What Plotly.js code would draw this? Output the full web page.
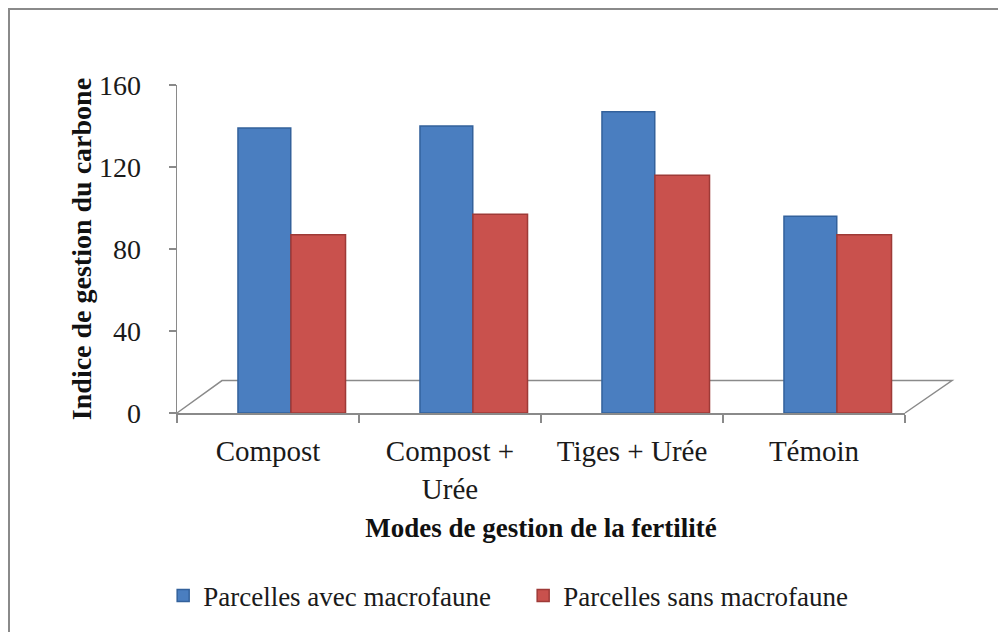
<!DOCTYPE html>
<html>
<head>
<meta charset="utf-8">
<script src="https://cdn.plot.ly/plotly-3.0.1.min.js"></script>
<style>
  html, body { margin: 0; padding: 0; background: #ffffff; }
  #wrap { position: relative; width: 998px; height: 632px; overflow: hidden; }
  #chart { position: absolute; left: 0; top: 0; width: 998px; height: 632px; }
  #frame { position: absolute; left: 8px; top: 8px; width: 1000px; height: 640px;
           border-top: 2px solid #8a8a8a; border-left: 2px solid #8a8a8a; pointer-events: none; }
</style>
</head>
<body>
<div id="wrap">
  <div id="chart"></div>
  <div id="frame"></div>
</div>
<script>
// Data
const categories = ["Compost", "Compost +<br>Urée", "Tiges + Urée", "Témoin"];
const avecMacrofaune = [139, 140, 147, 96];
const sansMacrofaune = [87, 97, 116, 87];
const seriesNames = ["Parcelles avec macrofaune", "Parcelles sans macrofaune"];
const yTicks = [0, 40, 80, 120, 160];

const serif = "Liberation Serif, Times New Roman, serif";

const traces = [
  {
    type: "bar",
    name: seriesNames[0],
    x: categories,
    y: avecMacrofaune,
    width: 0.29,
    offset: -0.165,
    marker: { color: "#4a7ec0", line: { color: "#33619b", width: 1.5 } },
    hoverinfo: "x+y+name"
  },
  {
    type: "bar",
    name: seriesNames[1],
    x: categories,
    y: sansMacrofaune,
    width: 0.30,
    offset: 0.126,
    marker: { color: "#c9514d", line: { color: "#9e3a37", width: 1.5 } },
    hoverinfo: "x+y+name"
  }
];

const layout = {
  width: 998,
  height: 632,
  margin: { l: 177, r: 93, t: 85, b: 214 },
  paper_bgcolor: "#ffffff",
  plot_bgcolor: "rgba(0,0,0,0)",
  barmode: "overlay",
  showlegend: true,
  font: { family: serif, color: "#1a1a1a" },
  xaxis: {
    type: "category",
    range: [-0.5, 3.5],
    showline: true,
    linecolor: "#8a8a8a",
    linewidth: 1.5,
    ticks: "outside",
    tickson: "boundaries",
    ticklen: 8,
    tickcolor: "#8a8a8a",
    tickwidth: 1.5,
    showgrid: false,
    ticklabelstandoff: 12,
    tickfont: { family: serif, size: 29, color: "#1a1a1a" },
    title: {
      text: "<b>Modes de gestion de la fertilité</b>",
      font: { family: serif, size: 27, color: "#111111" },
      standoff: 14
    },
    automargin: false
  },
  yaxis: {
    range: [0, 160],
    tickvals: yTicks,
    showline: true,
    linecolor: "#8a8a8a",
    linewidth: 1.5,
    ticks: "outside",
    ticklen: 7,
    tickcolor: "#8a8a8a",
    tickwidth: 1.5,
    showgrid: false,
    zeroline: false,
    ticklabelstandoff: 22,
    tickfont: { family: serif, size: 28, color: "#1a1a1a" },
    title: {
      text: "<b>Indice de gestion du carbone</b>",
      font: { family: serif, size: 28, color: "#111111" }
    },
    automargin: false
  },
  legend: {
    orientation: "h",
    x: -0.019,
    xanchor: "left",
    y: -0.558,
    yanchor: "middle",
    font: { family: serif, size: 27, color: "#1a1a1a" },
    bgcolor: "rgba(0,0,0,0)",
    entrywidth: 315,
    entrywidthmode: "pixels",
    itemwidth: 30
  },
  shapes: [
    {
      type: "path",
      xref: "paper",
      yref: "paper",
      path: "M 0 0 L 0.0618 0.099 L 1.0646 0.099 L 1 0",
      line: { color: "#8a8a8a", width: 1.5 },
      layer: "below"
    }
  ]
};

Plotly.newPlot("chart", traces, layout, { displayModeBar: false, staticPlot: true });
</script>
</body>
</html>
